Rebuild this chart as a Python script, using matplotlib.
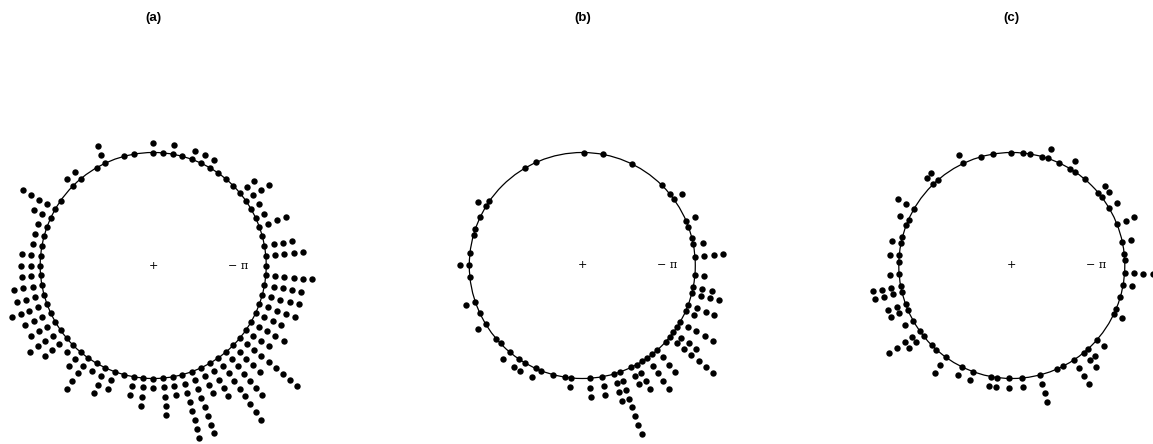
import numpy as np
import matplotlib
matplotlib.use("Agg")
import matplotlib.pyplot as plt
from matplotlib.patches import Circle

# Stacked circular dot plots: number of points per angular bin.
# Panel (a): 72 bins of 5 degrees, counts for bins 0..71
a_counts = [1, 5, 4, 1, 4, 2, 2, 4, 3, 1, 1, 1, 2, 2, 2, 1, 2, 1,
            2, 0, 1, 1, 0, 3, 1, 0, 2, 2, 0, 1, 5, 3, 2, 2, 2, 3,
            3, 3, 4, 4, 5, 4, 4, 5, 4, 2, 3, 5, 2, 4, 3, 1, 3, 4,
            2, 5, 3, 8, 8, 4, 5, 9, 7, 5, 9, 4, 5, 4, 5, 5, 5, 6]
a_bins = list(range(len(a_counts)))

# Panel (b): 115 bins, occupied bins only
b_bins = [0, 2, 3, 5, 6, 10, 11, 13, 19, 24, 27, 35, 37, 45, 46, 48, 50, 51,
          54, 56, 58, 62, 64, 66, 69, 70, 72, 74, 75, 77, 78, 80, 82, 83, 86,
          88, 90, 91, 93, 94, 95, 96, 97, 98, 100, 101, 102, 103, 104, 106,
          107, 109, 110, 112]
b_counts = [4, 2, 1, 1, 2, 2, 1, 1, 1, 1, 1, 1, 1, 1, 2, 1, 1, 1,
            1, 2, 1, 2, 1, 2, 1, 1, 2, 2, 2, 2, 1, 1, 1, 2, 3,
            3, 4, 8, 3, 4, 1, 5, 1, 4, 1, 7, 4, 1, 5, 2,
            4, 4, 3, 2]

# Panel (c): 115 bins, occupied bins only
c_bins = [0, 2, 5, 8, 10, 11, 14, 16, 17, 19, 21, 22, 24, 25, 27, 30, 32, 35,
          40, 41, 46, 48, 49, 51, 52, 54, 55, 57, 59, 60, 62, 63, 65, 67, 68,
          70, 71, 73, 76, 78, 81, 82, 84, 86, 89, 92, 93, 95, 97, 98, 100,
          105, 106, 108, 110, 112, 114]
c_counts = [1, 2, 3, 2, 2, 2, 1, 1, 2, 1, 2, 1, 1, 1, 1, 1, 1, 2,
            2, 2, 3, 2, 1, 1, 2, 2, 1, 2, 4, 4, 3, 3, 2, 5, 3,
            1, 1, 3, 2, 2, 2, 2, 2, 2, 4, 1, 1, 4, 3, 2, 2,
            2, 1, 1, 2, 4, 1]

titles = ["(a)", "(b)", "(c)"]
bin_totals = [72, 115, 115]
first_mid_deg = [0.0, 4.5, 5.8]
panels = [(a_bins, a_counts), (b_bins, b_counts), (c_bins, c_counts)]

W, H = 1153, 444
fig = plt.figure(figsize=(W / 100, H / 100), dpi=100)
fig.patch.set_facecolor("white")

radius_px = 113.0
lim = 1.9
step = 0.083
centers = [(153.2, 265.5), (582.3, 265.5), (1011.8, 265.5)]

for (cx, cy), title, nb, off, (bins, counts) in zip(centers, titles, bin_totals,
                                                    first_mid_deg, panels):
    side = 2 * lim * radius_px
    ax = fig.add_axes([(cx - side / 2) / W, (H - cy - side / 2) / H, side / W, side / H])
    ax.set_xlim(-lim, lim)
    ax.set_ylim(-lim, lim)
    ax.set_aspect("equal")
    ax.axis("off")
    ax.add_patch(Circle((0, 0), 1.0, fill=False, lw=0.9, color="black"))

    theta = np.deg2rad(off + np.asarray(bins) * 360.0 / nb)
    for t, n in zip(theta, counts):
        if n == 0:
            continue
        r = 1.0 + step * np.arange(n)
        ax.plot(r * np.cos(t), r * np.sin(t), "o", ms=4.6, color="black",
                mec="none", clip_on=False)

    ax.text(0, 0, "+", ha="center", va="center", fontsize=8, family="DejaVu Serif")
    ax.text(0.75, 0, "\u2212 \u03c0", ha="center", va="center", fontsize=8,
            family="DejaVu Serif")
    fig.text(cx / W, 1 - 18 / H, title, ha="center", va="center",
             fontweight="bold", fontsize=9.5, family="Liberation Sans")

fig.savefig("out.png", dpi=100, facecolor="white")
